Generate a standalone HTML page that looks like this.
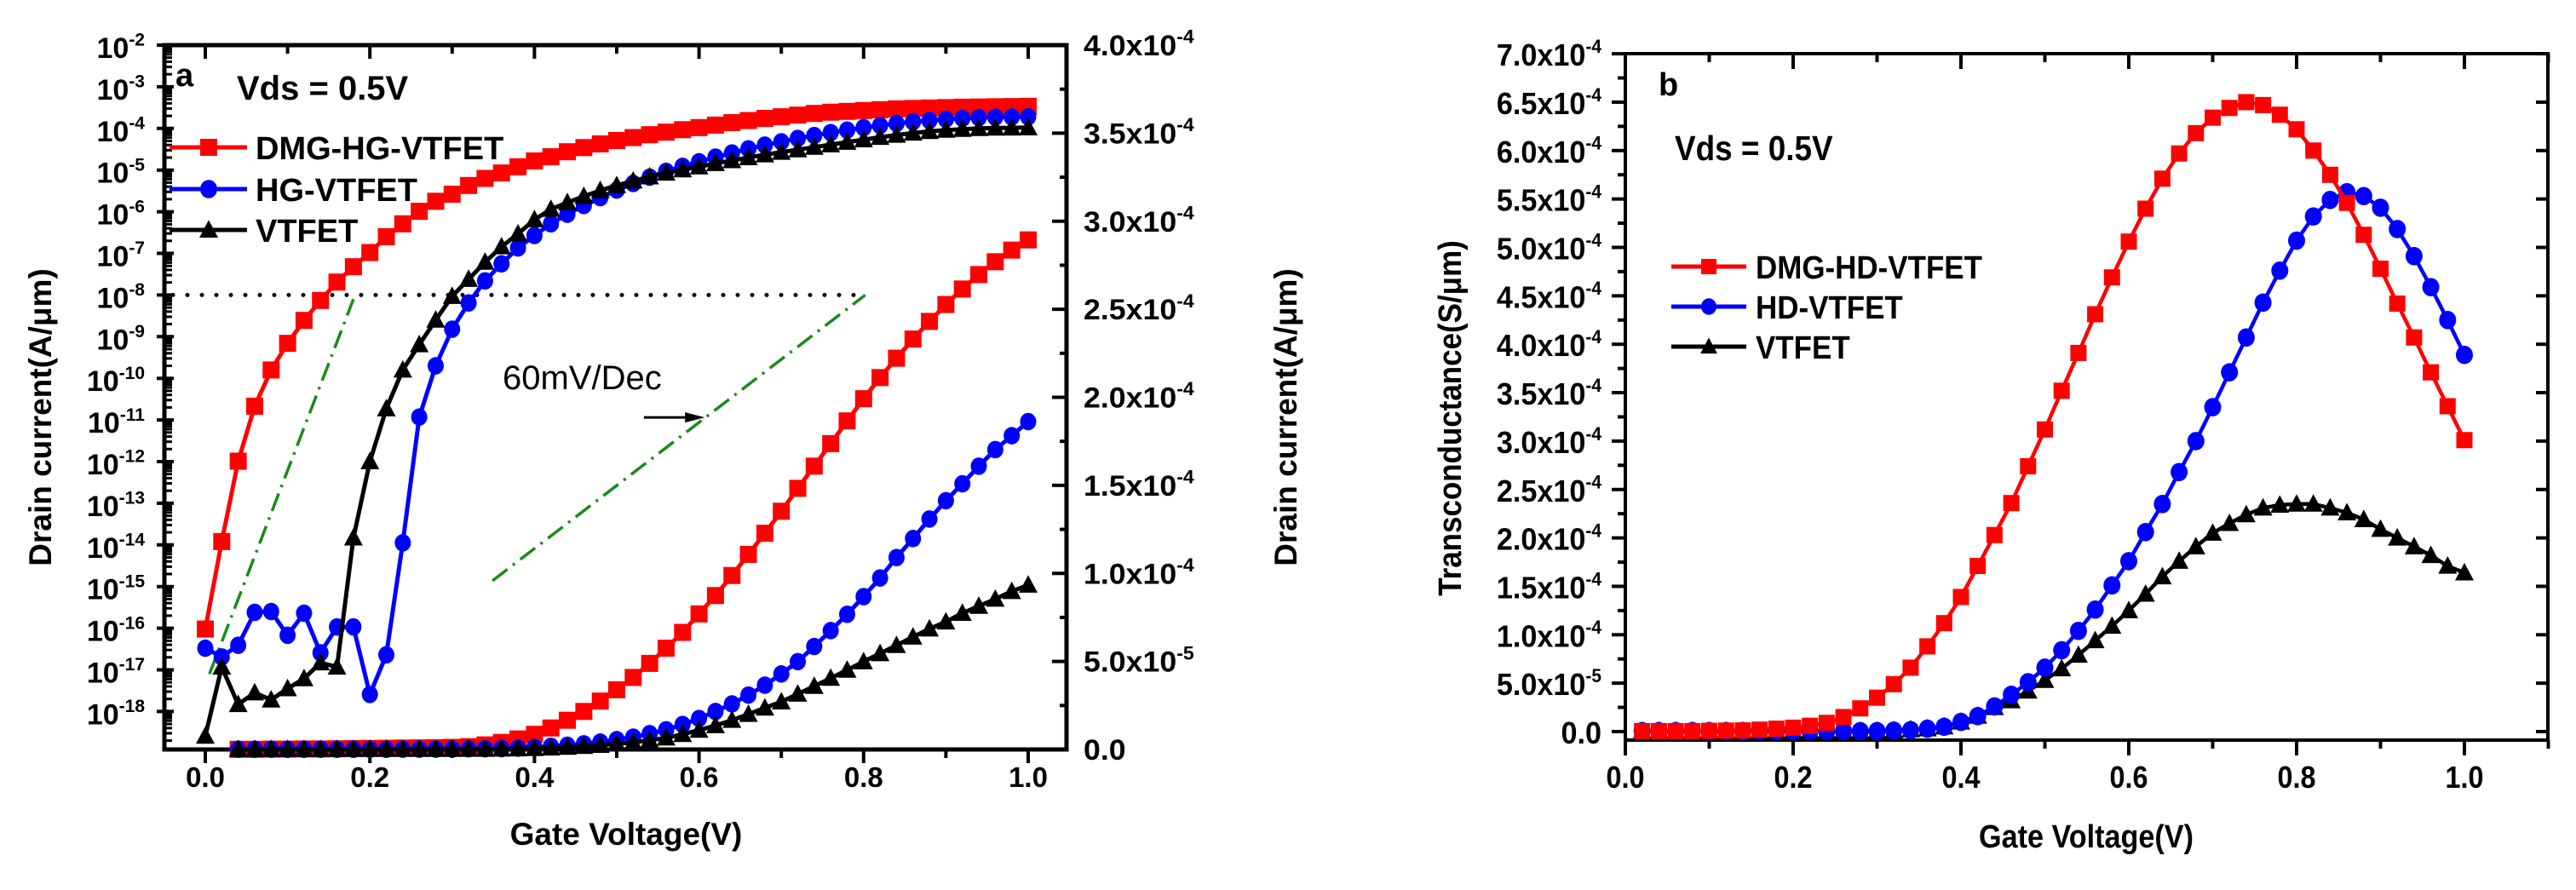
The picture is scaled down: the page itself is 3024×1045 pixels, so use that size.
<!DOCTYPE html>
<html><head><meta charset="utf-8"><style>
html,body{margin:0;padding:0;background:#fff;}
svg{display:block;font-family:"Liberation Sans",Arial,sans-serif;}
</style></head><body>
<svg id="fig" width="3024" height="1045" viewBox="0 0 3024 1045" xmlns="http://www.w3.org/2000/svg">
<g id="chartA"></g>
<g id="chartB"></g>
</svg>
<script>
// ---------- Chart A data ----------
const xLogA = [0,0.02,0.04,0.06,0.08,0.10,0.12,0.14,0.16,0.18,0.20,0.22,0.24,0.26,0.28,0.30,0.32,0.34,0.36,0.38,0.40,0.42,0.44,0.46,0.48,0.50,0.52,0.54,0.56,0.58,0.60,0.62,0.64,0.66,0.68,0.70,0.72,0.74,0.76,0.78,0.80,0.82,0.84,0.86,0.88,0.90,0.92,0.94,0.96,0.98,1.0];
const redLogA = [-16.02,-13.92,-11.99,-10.67,-9.8,-9.16,-8.61,-8.13,-7.69,-7.32,-6.98,-6.6,-6.29,-5.99,-5.75,-5.58,-5.37,-5.2,-5.07,-4.92,-4.78,-4.68,-4.56,-4.46,-4.37,-4.29,-4.22,-4.15,-4.09,-4.03,-3.98,-3.92,-3.86,-3.81,-3.76,-3.72,-3.68,-3.64,-3.61,-3.59,-3.57,-3.55,-3.53,-3.52,-3.51,-3.50,-3.49,-3.485,-3.48,-3.475,-3.47];
const blueLogA = [-16.48,-16.69,-16.41,-15.62,-15.6,-16.17,-15.64,-16.59,-15.97,-15.97,-17.59,-16.64,-13.95,-10.93,-9.7,-8.82,-8.19,-7.66,-7.25,-6.87,-6.57,-6.29,-6.06,-5.85,-5.66,-5.48,-5.32,-5.17,-5.03,-4.91,-4.8,-4.69,-4.59,-4.49,-4.40,-4.32,-4.24,-4.17,-4.1,-4.04,-3.98,-3.93,-3.88,-3.84,-3.81,-3.78,-3.76,-3.74,-3.73,-3.725,-3.72];
const blackLogA = [-18.59,-16.93,-17.83,-17.55,-17.72,-17.45,-17.21,-16.83,-16.93,-13.83,-12.0,-10.73,-9.8,-9.19,-8.6,-8.03,-7.62,-7.21,-6.84,-6.53,-6.19,-5.94,-5.78,-5.63,-5.49,-5.37,-5.26,-5.16,-5.07,-4.99,-4.92,-4.84,-4.77,-4.7,-4.63,-4.57,-4.51,-4.45,-4.39,-4.33,-4.27,-4.21,-4.16,-4.11,-4.07,-4.04,-4.02,-4.0,-3.99,-3.985,-3.98];
const xLinA = [0.04,0.06,0.08,0.10,0.12,0.14,0.16,0.18,0.20,0.22,0.24,0.26,0.28,0.30,0.32,0.34,0.36,0.38,0.40,0.42,0.44,0.46,0.48,0.50,0.52,0.54,0.56,0.58,0.60,0.62,0.64,0.66,0.68,0.70,0.72,0.74,0.76,0.78,0.80,0.82,0.84,0.86,0.88,0.90,0.92,0.94,0.96,0.98,1.0];
const redLinA = [0.001,0.001,0.002,0.002,0.003,0.003,0.004,0.005,0.006,0.007,0.008,0.009,0.01,0.012,0.016,0.026,0.04,0.06,0.086,0.122,0.166,0.216,0.275,0.339,0.409,0.489,0.575,0.665,0.77,0.874,0.988,1.108,1.228,1.353,1.483,1.609,1.737,1.866,1.992,2.112,2.222,2.331,2.431,2.527,2.615,2.697,2.77,2.836,2.894];
const blueLinA = [0.001,0.001,0.001,0.001,0.001,0.001,0.001,0.001,0.001,0.001,0.002,0.002,0.002,0.003,0.004,0.004,0.005,0.008,0.012,0.018,0.024,0.032,0.042,0.056,0.07,0.09,0.112,0.142,0.176,0.216,0.259,0.309,0.365,0.429,0.499,0.585,0.675,0.768,0.868,0.974,1.09,1.198,1.309,1.413,1.509,1.609,1.703,1.782,1.862];
const blackLinA = [0.001,0.001,0.001,0.001,0.001,0.001,0.001,0.001,0.001,0.001,0.001,0.001,0.001,0.001,0.002,0.002,0.003,0.004,0.006,0.009,0.013,0.018,0.024,0.032,0.04,0.052,0.066,0.086,0.11,0.136,0.166,0.2,0.236,0.271,0.315,0.359,0.405,0.451,0.499,0.545,0.591,0.639,0.685,0.725,0.774,0.814,0.854,0.898,0.934];
const xTicksA = ["0.0","0.2","0.4","0.6","0.8","1.0"];
const logTicksA = [-2,-3,-4,-5,-6,-7,-8,-9,-10,-11,-12,-13,-14,-15,-16,-17,-18];
const linTicksA = ["0.0","5.0x10|-5","1.0x10|-4","1.5x10|-4","2.0x10|-4","2.5x10|-4","3.0x10|-4","3.5x10|-4","4.0x10|-4"];
const legendA = ["DMG-HG-VTFET","HG-VTFET","VTFET"];
// ---------- Chart B data ----------
const xB = [0.02,0.04,0.06,0.08,0.10,0.12,0.14,0.16,0.18,0.20,0.22,0.24,0.26,0.28,0.30,0.32,0.34,0.36,0.38,0.40,0.42,0.44,0.46,0.48,0.50,0.52,0.54,0.56,0.58,0.60,0.62,0.64,0.66,0.68,0.70,0.72,0.74,0.76,0.78,0.80,0.82,0.84,0.86,0.88,0.90,0.92,0.94,0.96,0.98,1.0];
const redB = [0.005,0.005,0.005,0.005,0.008,0.01,0.012,0.02,0.03,0.04,0.06,0.09,0.15,0.24,0.35,0.49,0.66,0.88,1.12,1.39,1.71,2.03,2.36,2.74,3.12,3.52,3.91,4.31,4.69,5.06,5.4,5.71,5.97,6.18,6.34,6.44,6.5,6.47,6.37,6.22,6.0,5.75,5.46,5.13,4.78,4.42,4.07,3.71,3.36,3.01];
const blueB = [0.005,0.005,0.005,0.005,0.005,0.005,0.005,0.005,0.005,0.005,0.005,0.005,0.005,0.005,0.005,0.01,0.015,0.03,0.05,0.1,0.16,0.26,0.38,0.51,0.66,0.84,1.04,1.26,1.51,1.76,2.06,2.35,2.68,3.0,3.35,3.71,4.07,4.43,4.76,5.07,5.32,5.49,5.57,5.53,5.41,5.19,4.91,4.59,4.25,3.89];
const blackB = [0.005,0.005,0.005,0.005,0.005,0.005,0.005,0.005,0.005,0.005,0.005,0.005,0.005,0.005,0.005,0.01,0.02,0.03,0.05,0.1,0.16,0.25,0.32,0.42,0.53,0.65,0.79,0.94,1.09,1.25,1.42,1.6,1.76,1.91,2.05,2.15,2.24,2.31,2.34,2.35,2.35,2.31,2.26,2.19,2.09,2.0,1.91,1.82,1.71,1.64];
const xTicksB = ["0.0","0.2","0.4","0.6","0.8","1.0"];
const yTicksB = ["0.0","5.0x10|-5","1.0x10|-4","1.5x10|-4","2.0x10|-4","2.5x10|-4","3.0x10|-4","3.5x10|-4","4.0x10|-4","4.5x10|-4","5.0x10|-4","5.5x10|-4","6.0x10|-4","6.5x10|-4","7.0x10|-4"];
const legendB = ["DMG-HD-VTFET","HD-VTFET","VTFET"];

const NS = "http://www.w3.org/2000/svg";
function mk(parent, tag, attrs){const e=document.createElementNS(NS,tag);for(const k in attrs)e.setAttribute(k,attrs[k]);parent.appendChild(e);return e;}
const COL = {red:"#ff0000",blue:"#0000ff",black:"#000000"};

const A = {x0:193,x1:1252,y0:53,y1:880};
const xA = v => 241 + v*966;
const yLogA = l => 53 + (-2 - l)*48.9;
const yLinA = v => 880 - v*206.75;

function marker(g, kind, cx, cy, s, color){
  let e;
  if(kind==="square"){ e=mk(g,"rect",{x:cx-s/2,y:cy-s/2,width:s,height:s,fill:color}); }
  else if(kind==="circle"){ e=mk(g,"ellipse",{cx:cx,cy:cy,rx:s/2,ry:s/2*1.08,fill:color}); }
  else { e=mk(g,"polygon",{points:`${cx},${cy-s*0.58} ${cx-s*0.55},${cy+s*0.45} ${cx+s*0.55},${cy+s*0.45}`,fill:color}); }
  return e;
}
function series(parent, xs, ys, fx, fy, color, kind, name, s, lw, showLine){
  const g = mk(parent,"g",{});
  
  
  if(showLine){
    const pts = xs.map((x,i)=>fx(x).toFixed(1)+","+fy(ys[i]).toFixed(1)).join(" ");
    const l = mk(g,"polyline",{points:pts,fill:"none",stroke:color,"stroke-width":lw,"stroke-linejoin":"round"});
    
    
  }
  xs.forEach((x,i)=>{
    const m = marker(g,kind,fx(x),fy(ys[i]),s,color);
    
    
  });
}
function sciLabel(parent, x, y, str, size, supSize, anchor, sx, name){
  const parts = str.split("|");
  const t = mk(parent,"text",{x:0,y:0,"font-size":size,"font-weight":"bold","text-anchor":anchor,transform:`translate(${x},${y}) scale(${sx},1)`});
  
  
  const a = mk(t,"tspan",{}); a.textContent = parts[0];
  if(parts.length>1){ const b = mk(t,"tspan",{"font-size":supSize,dy:-size*0.42}); b.textContent = parts[1]; }
  return t;
}

(function(){
  const g = document.getElementById("chartA");
  const fr = mk(g,"rect",{x:A.x0,y:A.y0,width:A.x1-A.x0,height:A.y1-A.y0,fill:"none",stroke:"#000","stroke-width":5});
  
  
  for(let k=0;k<=10;k++){
    const v=k*0.1, X=xA(v), major=(k%2===0);
    mk(g,"line",{x1:X,y1:A.y1,x2:X,y2:A.y1+(major?16:10),stroke:"#000","stroke-width":4});
    mk(g,"line",{x1:X,y1:A.y0,x2:X,y2:A.y0+(major?16:10),stroke:"#000","stroke-width":4});
  }
  xTicksA.forEach((s,i)=>{
    const t=mk(g,"text",{x:xA(i*0.2),y:924,"font-size":33,"font-weight":"bold","text-anchor":"middle"});
    
    
    t.textContent=s;
  });
  logTicksA.forEach(l=>{
    const Y=yLogA(l);
    mk(g,"line",{x1:A.x0-9,y1:Y,x2:A.x0+11,y2:Y,stroke:"#000","stroke-width":4});
    sciLabel(g,170,Y+15,"10|"+l,34,21,"end",1.0,'left-y-tick-label');
    if(l>-18.9){
      for(let m=2;m<=9;m++){
        const ym = yLogA(l-1+Math.log10(m));
        if(ym<=A.y1 && ym>A.y0) mk(g,"line",{x1:A.x0,y1:ym,x2:A.x0+9,y2:ym,stroke:"#000","stroke-width":3});
      }
    }
  });
  linTicksA.forEach((s,i)=>{
    const Y=yLinA(i*0.5);
    mk(g,"line",{x1:A.x1-17,y1:Y,x2:A.x1,y2:Y,stroke:"#000","stroke-width":4});
    if(i<8) mk(g,"line",{x1:A.x1-8,y1:yLinA(i*0.5+0.25),x2:A.x1,y2:yLinA(i*0.5+0.25),stroke:"#000","stroke-width":4});
    sciLabel(g,1272,Y+12,s,34,22,"start",1.05,'right-y-tick-label');
  });
  let t=mk(g,"text",{x:0,y:0,"font-size":37,"font-weight":"bold","text-anchor":"middle",transform:"translate(60,490) rotate(-90)"});
    t.textContent="Drain current(A/\u03bcm)";
  t=mk(g,"text",{x:0,y:0,"font-size":37,"font-weight":"bold","text-anchor":"middle",transform:"translate(1522,490) rotate(-90)"});
    t.textContent="Drain current(A/\u03bcm)";
  t=mk(g,"text",{x:735,y:992,"font-size":37,"font-weight":"bold","text-anchor":"middle"});
    t.textContent="Gate Voltage(V)";
  t=mk(g,"text",{x:206,y:101,"font-size":38,"font-weight":"bold"});
    t.textContent="a";
  t=mk(g,"text",{x:278,y:117,"font-size":40,"font-weight":"bold"});
    t.textContent="Vds = 0.5V";
  const dl = mk(g,"line",{x1:A.x0+10,y1:yLogA(-8),x2:xA(0.80),y2:yLogA(-8),stroke:"#000","stroke-width":5,"stroke-dasharray":"0 17","stroke-linecap":"round"});
   
  const g1 = mk(g,"line",{x1:xA(0.005),y1:yLogA(-17.1),x2:xA(0.18),y2:yLogA(-8.1),stroke:"#1a8a1a","stroke-width":3.5,"stroke-dasharray":"22 8 3 8"});
   
  const g2 = mk(g,"line",{x1:xA(0.349),y1:yLogA(-14.86),x2:xA(0.802),y2:yLogA(-8.0),stroke:"#1a8a1a","stroke-width":3.5,"stroke-dasharray":"22 8 3 8"});
   
  const ar = mk(g,"line",{x1:xA(0.533),y1:yLogA(-10.94),x2:xA(0.59),y2:yLogA(-10.94),stroke:"#000","stroke-width":3});
   
  const ah = mk(g,"polygon",{points:`${xA(0.607)},${yLogA(-10.94)} ${xA(0.583)},${yLogA(-10.94)-6} ${xA(0.583)},${yLogA(-10.94)+6}`,fill:"#000"});
   
  t=mk(g,"text",{x:590,y:457,"font-size":40});
    t.textContent="60mV/Dec";
  series(g,xLinA,redLinA,xA,yLinA,COL.red,"square","red-linear-series",20,5,true);
  series(g,xLinA,blueLinA,xA,yLinA,COL.blue,"circle","blue-linear-series",19,5,true);
  series(g,xLinA,blackLinA,xA,yLinA,COL.black,"tri","black-linear-series",20,5,true);
  series(g,xLogA,redLogA,xA,yLogA,COL.red,"square","red-log-series",20,5,true);
  series(g,xLogA,blueLogA,xA,yLogA,COL.blue,"circle","blue-log-series",19,5,true);
  series(g,xLogA,blackLogA,xA,yLogA,COL.black,"tri","black-log-series",20,5,true);
  const kinds=["square","circle","tri"], cols=[COL.red,COL.blue,COL.black], ys=[173,222,270];
  legendA.forEach((s,i)=>{
    const lg = mk(g,"g",{});
    
    
    mk(lg,"line",{x1:199,y1:ys[i],x2:290,y2:ys[i],stroke:cols[i],"stroke-width":5});
    marker(lg,kinds[i],245,ys[i],20,cols[i]);
    const tt=mk(lg,"text",{x:300,y:ys[i]+14,"font-size":38,"font-weight":"bold"});
    tt.textContent=s;
  });
})();

const B = {x0:1908,x1:2991,y0:63,y1:869};
const xBs = v => 1908 + v*985;
const yBs = v => 859 - v*113.7;
(function(){
  const g = document.getElementById("chartB");
  const fr = mk(g,"rect",{x:B.x0,y:B.y0,width:B.x1-B.x0,height:B.y1-B.y0,fill:"none",stroke:"#000","stroke-width":4});
  
  
  for(let k=0;k<=11;k++){
    const X=xBs(k*0.1), major=(k%2===0);
    if(X>B.x1+1) break;
    mk(g,"line",{x1:X,y1:B.y1,x2:X,y2:B.y1+(major?18:10),stroke:"#000","stroke-width":4});
    mk(g,"line",{x1:X,y1:B.y0,x2:X,y2:B.y0+(major?18:10),stroke:"#000","stroke-width":4});
  }
  xTicksB.forEach((s,i)=>{
    const t=mk(g,"text",{x:0,y:0,"font-size":36,"font-weight":"bold","text-anchor":"middle",transform:`translate(${xBs(i*0.2)},925) scale(0.9,1)`});
    
    
    t.textContent=s;
  });
  yTicksB.forEach((s,i)=>{
    const Y=yBs(i*0.5);
    mk(g,"line",{x1:B.x0-16,y1:Y,x2:B.x0,y2:Y,stroke:"#000","stroke-width":4});
    mk(g,"line",{x1:B.x1-14,y1:Y,x2:B.x1,y2:Y,stroke:"#000","stroke-width":4});
    if(i<14){
      const Ym=yBs(i*0.5+0.25);
      mk(g,"line",{x1:B.x0-9,y1:Ym,x2:B.x0,y2:Ym,stroke:"#000","stroke-width":4});
    }
    sciLabel(g,1880,Y+14,s,36,22,"end",0.95,'y-tick-label-b');
  });
  let t=mk(g,"text",{x:0,y:0,"font-size":38,"font-weight":"bold","text-anchor":"middle",transform:"translate(1715,491) rotate(-90) scale(0.92,1)"});
    t.textContent="Transconductance(S/\u03bcm)";
  t=mk(g,"text",{x:0,y:0,"font-size":38,"font-weight":"bold","text-anchor":"middle",transform:"translate(2449,995) scale(0.9,1)"});
    t.textContent="Gate Voltage(V)";
  t=mk(g,"text",{x:1947,y:112,"font-size":38,"font-weight":"bold"});
    t.textContent="b";
  t=mk(g,"text",{x:0,y:0,"font-size":41,"font-weight":"bold",transform:"translate(1966,188) scale(0.9,1)"});
    t.textContent="Vds = 0.5V";
  series(g,xB,blackB,xBs,yBs,COL.black,"tri","black-gm-series",20,4.5,true);
  series(g,xB,blueB,xBs,yBs,COL.blue,"circle","blue-gm-series",20,4.5,true);
  series(g,xB,redB,xBs,yBs,COL.red,"square","red-gm-series",19,4.5,true);
  const kinds=["square","circle","tri"], cols=[COL.red,COL.blue,COL.black], ys=[313,360,407];
  legendB.forEach((s,i)=>{
    const lg = mk(g,"g",{});
    
    
    mk(lg,"line",{x1:1962,y1:ys[i],x2:2050,y2:ys[i],stroke:cols[i],"stroke-width":5});
    marker(lg,kinds[i],2006,ys[i],18,cols[i]);
    const tt=mk(lg,"text",{x:0,y:0,"font-size":38,"font-weight":"bold",transform:`translate(2061,${ys[i]+14}) scale(0.92,1)`});
    tt.textContent=s;
  });
})();
</script>
</body></html>
